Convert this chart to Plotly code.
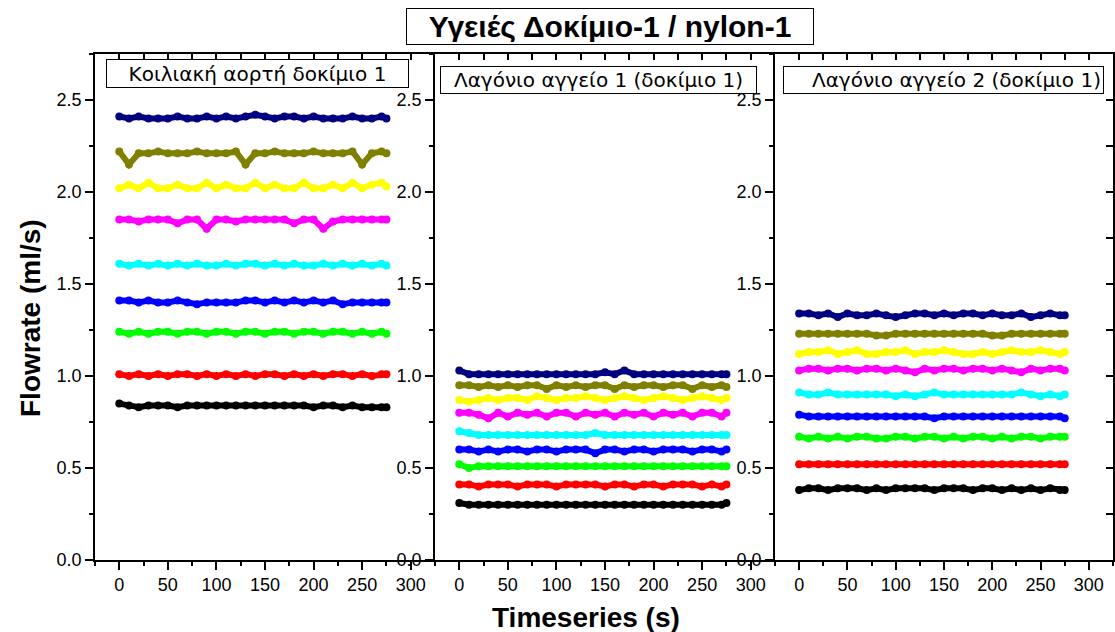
import plotly.graph_objects as go

TIME = [0, 10, 20, 30, 40, 50, 60, 70, 80, 90, 100, 110, 120, 130, 140,
        150, 160, 170, 180, 190, 200, 210, 220, 230, 240, 250, 260, 270, 275]

COLORS = ["#000000", "#FF0000", "#00FF00", "#0000FF", "#00FFFF",
          "#FF00FF", "#FFFF00", "#808000", "#000080"]

PANEL_TITLES = ["Κοιλιακή αορτή δοκίμιο 1",
                "Λαγόνιο αγγείο 1 (δοκίμιο 1)",
                "Λαγόνιο αγγείο 2 (δοκίμιο 1)"]

# Panel 1 - Κοιλιακή αορτή
P1_BLACK = [0.85,0.84,0.83,0.84,0.84,0.84,0.83,0.84,0.84,0.84,0.84,0.84,0.84,0.84,0.84,0.84,0.84,0.84,0.84,0.84,0.83,0.84,0.84,0.83,0.84,0.83,0.83,0.83,0.83]
P1_RED = [1.01,1.00,1.01,1.00,1.01,1.00,1.01,1.01,1.00,1.01,1.00,1.01,1.00,1.01,1.00,1.01,1.01,1.00,1.01,1.00,1.01,1.00,1.01,1.01,1.00,1.01,1.00,1.01,1.01]
P1_GREEN = [1.24,1.23,1.24,1.23,1.24,1.24,1.23,1.24,1.24,1.23,1.24,1.24,1.23,1.24,1.24,1.23,1.24,1.24,1.23,1.24,1.24,1.23,1.24,1.24,1.23,1.24,1.23,1.24,1.23]
P1_BLUE = [1.41,1.41,1.40,1.41,1.40,1.40,1.41,1.40,1.39,1.40,1.40,1.40,1.40,1.41,1.41,1.40,1.41,1.40,1.41,1.40,1.41,1.40,1.41,1.39,1.40,1.40,1.40,1.40,1.40]
P1_CYAN = [1.61,1.60,1.61,1.60,1.61,1.60,1.61,1.60,1.61,1.60,1.60,1.61,1.60,1.61,1.61,1.60,1.61,1.60,1.61,1.60,1.60,1.61,1.60,1.61,1.60,1.61,1.60,1.61,1.60]
P1_MAGENTA = [1.85,1.85,1.84,1.85,1.85,1.85,1.83,1.85,1.85,1.80,1.85,1.85,1.84,1.85,1.85,1.85,1.85,1.85,1.83,1.85,1.85,1.80,1.84,1.85,1.85,1.85,1.85,1.85,1.85]
P1_YELLOW = [2.02,2.04,2.02,2.05,2.02,2.02,2.04,2.02,2.02,2.05,2.02,2.04,2.02,2.02,2.05,2.02,2.04,2.02,2.02,2.05,2.02,2.02,2.04,2.02,2.05,2.02,2.04,2.05,2.03]
P1_OLIVE = [2.22,2.15,2.21,2.21,2.22,2.21,2.21,2.21,2.22,2.21,2.21,2.21,2.22,2.15,2.21,2.21,2.22,2.21,2.21,2.21,2.22,2.21,2.21,2.21,2.22,2.15,2.21,2.22,2.21]
P1_NAVY = [2.41,2.40,2.41,2.40,2.40,2.40,2.41,2.40,2.40,2.41,2.40,2.41,2.40,2.41,2.42,2.41,2.40,2.41,2.41,2.40,2.41,2.40,2.40,2.40,2.41,2.40,2.40,2.41,2.40]

# Panel 2 - Λαγόνιο αγγείο 1
P2_BLACK = [0.31,0.30,0.30,0.30,0.30,0.30,0.30,0.30,0.30,0.30,0.30,0.30,0.30,0.30,0.30,0.30,0.30,0.30,0.30,0.30,0.30,0.30,0.30,0.30,0.30,0.30,0.30,0.30,0.31]
P2_RED = [0.41,0.41,0.40,0.41,0.41,0.41,0.40,0.41,0.41,0.41,0.40,0.41,0.41,0.41,0.41,0.40,0.41,0.41,0.40,0.41,0.41,0.40,0.41,0.41,0.41,0.40,0.41,0.40,0.41]
P2_GREEN = [0.52,0.50,0.51,0.51,0.51,0.51,0.51,0.51,0.51,0.51,0.51,0.51,0.51,0.51,0.51,0.51,0.51,0.51,0.51,0.51,0.51,0.51,0.51,0.51,0.51,0.51,0.51,0.51,0.51]
P2_BLUE = [0.60,0.60,0.59,0.60,0.59,0.60,0.60,0.59,0.60,0.60,0.59,0.60,0.60,0.60,0.58,0.60,0.60,0.59,0.60,0.60,0.59,0.60,0.60,0.60,0.59,0.60,0.60,0.59,0.60]
P2_CYAN = [0.70,0.69,0.68,0.68,0.68,0.68,0.68,0.68,0.68,0.68,0.68,0.68,0.68,0.68,0.69,0.68,0.68,0.68,0.68,0.68,0.68,0.68,0.68,0.68,0.68,0.68,0.68,0.68,0.68]
P2_MAGENTA = [0.80,0.80,0.79,0.77,0.80,0.78,0.80,0.79,0.80,0.78,0.80,0.80,0.78,0.80,0.79,0.80,0.78,0.80,0.79,0.80,0.78,0.80,0.79,0.80,0.78,0.80,0.80,0.78,0.80]
P2_YELLOW = [0.87,0.86,0.87,0.88,0.87,0.88,0.88,0.87,0.89,0.88,0.87,0.88,0.88,0.89,0.88,0.87,0.88,0.89,0.88,0.87,0.88,0.89,0.88,0.87,0.88,0.89,0.88,0.87,0.88]
P2_OLIVE = [0.95,0.95,0.94,0.95,0.94,0.95,0.94,0.95,0.95,0.93,0.95,0.94,0.95,0.94,0.95,0.95,0.93,0.95,0.94,0.95,0.95,0.94,0.95,0.95,0.93,0.95,0.94,0.95,0.94]
P2_NAVY = [1.03,1.01,1.01,1.01,1.01,1.01,1.01,1.01,1.01,1.01,1.01,1.01,1.01,1.01,1.01,1.02,1.01,1.03,1.01,1.01,1.01,1.01,1.01,1.01,1.01,1.01,1.01,1.01,1.01]

# Panel 3 - Λαγόνιο αγγείο 2
P3_BLACK = [0.38,0.39,0.39,0.38,0.39,0.39,0.39,0.38,0.39,0.38,0.39,0.39,0.39,0.39,0.38,0.39,0.39,0.39,0.38,0.39,0.39,0.38,0.39,0.38,0.39,0.38,0.39,0.38,0.38]
P3_RED = [0.52,0.52,0.52,0.52,0.52,0.52,0.52,0.52,0.52,0.52,0.52,0.52,0.52,0.52,0.52,0.52,0.52,0.52,0.52,0.52,0.52,0.52,0.52,0.52,0.52,0.52,0.52,0.52,0.52]
P3_GREEN = [0.67,0.66,0.67,0.66,0.67,0.66,0.67,0.67,0.66,0.66,0.67,0.67,0.66,0.67,0.67,0.66,0.67,0.66,0.67,0.67,0.66,0.67,0.66,0.67,0.67,0.66,0.67,0.67,0.67]
P3_BLUE = [0.79,0.78,0.78,0.78,0.78,0.78,0.78,0.78,0.78,0.78,0.78,0.78,0.78,0.78,0.77,0.78,0.78,0.78,0.78,0.78,0.78,0.78,0.78,0.78,0.78,0.78,0.78,0.78,0.77]
P3_CYAN = [0.91,0.90,0.90,0.91,0.90,0.90,0.90,0.90,0.90,0.90,0.89,0.90,0.89,0.90,0.91,0.90,0.90,0.90,0.90,0.90,0.90,0.90,0.90,0.91,0.90,0.89,0.90,0.89,0.90]
P3_MAGENTA = [1.03,1.04,1.04,1.03,1.04,1.04,1.03,1.04,1.04,1.03,1.04,1.03,1.02,1.04,1.03,1.04,1.04,1.03,1.04,1.04,1.03,1.04,1.03,1.02,1.04,1.03,1.04,1.04,1.03]
P3_YELLOW = [1.12,1.13,1.13,1.14,1.12,1.13,1.14,1.12,1.12,1.13,1.13,1.14,1.12,1.13,1.13,1.14,1.13,1.12,1.12,1.13,1.12,1.13,1.14,1.13,1.13,1.14,1.13,1.12,1.13]
P3_OLIVE = [1.23,1.23,1.23,1.23,1.23,1.23,1.23,1.23,1.22,1.22,1.23,1.23,1.23,1.23,1.23,1.23,1.23,1.23,1.23,1.23,1.22,1.22,1.23,1.23,1.23,1.23,1.23,1.23,1.23]
P3_NAVY = [1.34,1.34,1.33,1.34,1.32,1.34,1.33,1.33,1.34,1.33,1.32,1.33,1.34,1.34,1.33,1.34,1.33,1.34,1.34,1.33,1.34,1.33,1.33,1.34,1.32,1.33,1.34,1.33,1.33]

PANELS = [
    [P1_BLACK, P1_RED, P1_GREEN, P1_BLUE, P1_CYAN, P1_MAGENTA, P1_YELLOW, P1_OLIVE, P1_NAVY],
    [P2_BLACK, P2_RED, P2_GREEN, P2_BLUE, P2_CYAN, P2_MAGENTA, P2_YELLOW, P2_OLIVE, P2_NAVY],
    [P3_BLACK, P3_RED, P3_GREEN, P3_BLUE, P3_CYAN, P3_MAGENTA, P3_YELLOW, P3_OLIVE, P3_NAVY],
]

FONT = "Arial, 'Liberation Sans', sans-serif"
WIDE = "'DejaVu Sans', Arial, sans-serif"

fig = go.Figure()
for p, series in enumerate(PANELS):
    xa = "x" if p == 0 else f"x{p+1}"
    ya = "y" if p == 0 else f"y{p+1}"
    for vals, col in zip(series, COLORS):
        fig.add_trace(go.Scatter(
            x=TIME, y=vals, xaxis=xa, yaxis=ya, mode="lines+markers",
            line=dict(color=col, width=6),
            marker=dict(color=col, size=8),
            showlegend=False, hoverinfo="skip"))

W, H = 1115, 632
L, R, T, B = 95, 2, 54, 72
pw = W - L - R
bounds = [95, 435, 775, 1113]
domains = [[(bounds[i] - L) / pw, (bounds[i + 1] - L) / pw] for i in range(3)]

layout = dict(
    width=W, height=H,
    margin=dict(l=L, r=R, t=T, b=B, pad=0),
    plot_bgcolor="white", paper_bgcolor="white",
    font=dict(family=FONT, color="black", size=18),
    showlegend=False,
)

tickfont = dict(family=FONT, size=18, color="black")
for i in range(3):
    sx = "" if i == 0 else str(i + 1)
    layout[f"xaxis{sx}"] = dict(
        domain=domains[i], range=[-25, 325], anchor=f"y{sx}",
        tickmode="linear", tick0=0, dtick=50, ticks="outside", ticklen=8,
        tickwidth=1.5, tickcolor="black",
        minor=dict(dtick=25, tick0=0, ticks="outside", ticklen=4, tickwidth=1.5, tickcolor="black"),
        showline=True, linecolor="black", linewidth=1.5,
        showgrid=False, zeroline=False, tickfont=tickfont,
    )
    layout[f"yaxis{sx}"] = dict(
        domain=[0, 1], range=[0, 2.75], anchor=f"x{sx}",
        tickmode="linear", tick0=0, dtick=0.5, tickformat=".1f",
        ticks="outside", ticklen=8, tickwidth=1.5, tickcolor="black",
        minor=dict(dtick=0.25, tick0=0, ticks="outside", ticklen=4, tickwidth=1.5, tickcolor="black"),
        showline=True, linecolor="black", linewidth=1.5,
        showgrid=False, zeroline=False, tickfont=tickfont,
    )
    layout[f"xaxis{i + 4}"] = dict(
        overlaying=f"x{sx}", side="top", anchor=f"y{sx}", range=[-25, 325],
        tickmode="linear", tick0=0, dtick=25, ticks="inside", ticklen=6,
        tickwidth=1.5, tickcolor="black", showticklabels=False,
        showline=True, linecolor="black", linewidth=1.5,
        showgrid=False, zeroline=False,
    )

layout["yaxis4"] = dict(
    overlaying="y3", side="right", anchor="x3", range=[0, 2.75],
    tickmode="linear", tick0=0, dtick=0.25, ticks="inside", ticklen=7,
    tickwidth=1.5, tickcolor="black", showticklabels=False,
    showline=True, linecolor="black", linewidth=1.5,
    showgrid=False, zeroline=False,
)

fig.update_layout(**layout)
for i in range(3):
    fig.add_trace(go.Scatter(x=[None], y=[None], xaxis=f"x{i+4}",
                             yaxis="y" if i == 0 else f"y{i+1}",
                             showlegend=False, hoverinfo="skip"))
fig.add_trace(go.Scatter(x=[None], y=[None], xaxis="x3", yaxis="y4",
                         showlegend=False, hoverinfo="skip"))

def px_x(px):
    return (px - L) / pw

def px_y(py):
    return (H - B - py) / (H - T - B)

annots = [
    dict(text="<b>Υγειές Δοκίμιο-1 / nylon-1</b>", x=px_x(610), y=px_y(26.5),
         font=dict(family=FONT, size=30, color="black"), width=402, height=31, align="center"),
    dict(text=PANEL_TITLES[0], x=px_x(257.5), y=px_y(73),
         font=dict(family=WIDE, size=20, color="black"), width=297, height=23, align="center"),
    dict(text=PANEL_TITLES[1], x=px_x(598.5), y=px_y(79.5),
         font=dict(family=WIDE, size=20, color="black"), width=311, height=22, align="center"),
    dict(text=PANEL_TITLES[2], x=px_x(943.5), y=px_y(79.5),
         font=dict(family=WIDE, size=20, color="black"), width=315, height=22, align="right"),
]
for a in annots:
    fig.add_annotation(xref="paper", yref="paper", showarrow=False,
                       xanchor="center", yanchor="middle",
                       bordercolor="black", borderwidth=1, borderpad=2,
                       bgcolor="white", **a)

fig.add_annotation(text="<b>Flowrate (ml/s)</b>", xref="paper", yref="paper",
                   x=px_x(30), y=px_y(318), textangle=-90, showarrow=False,
                   xanchor="center", yanchor="middle",
                   font=dict(family=FONT, size=28, color="black"))
fig.add_annotation(text="<b>Timeseries (s)</b>", xref="paper", yref="paper",
                   x=px_x(586), y=px_y(617), showarrow=False,
                   xanchor="center", yanchor="middle",
                   font=dict(family=FONT, size=28, color="black"))

fig.write_html("out.html")
